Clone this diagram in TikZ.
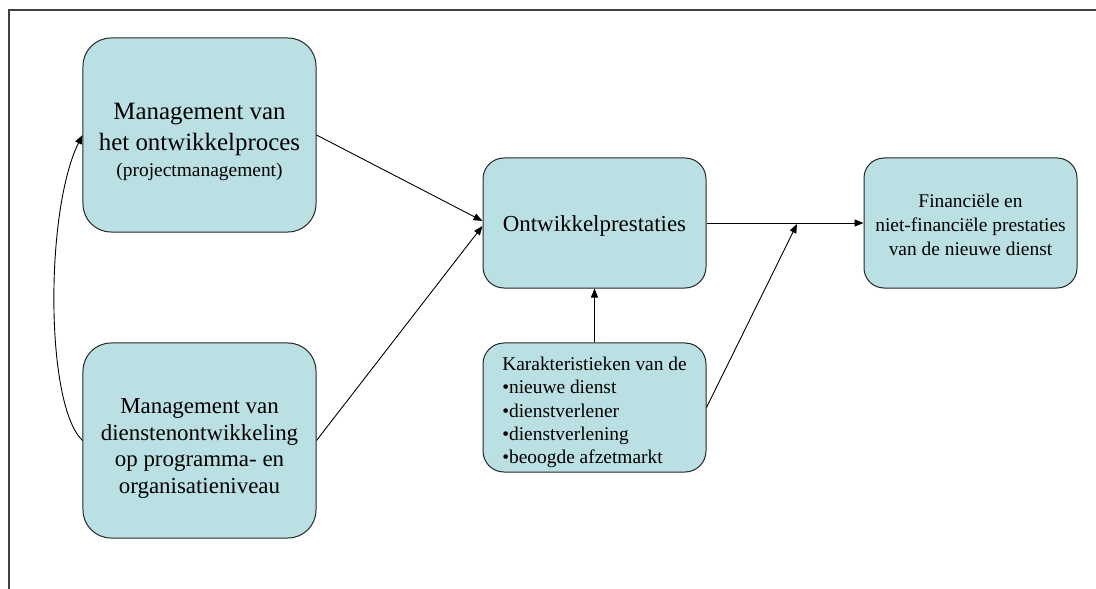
\documentclass[tikz,border=0pt]{standalone}
\usepackage{fontspec}
\setmainfont{Liberation Serif}
\usetikzlibrary{arrows.meta}
\definecolor{boxfill}{RGB}{187,224,227}
\begin{document}
\begin{tikzpicture}[x=1bp,y=-1bp,
  box/.style={draw=black!85, line width=1bp, fill=boxfill, rounded corners=#1,
              inner sep=0pt},
  box/.default=20bp,
  txt/.style={inner sep=0pt, align=center},
  arr/.style={-{Triangle[length=9bp,width=7bp]}, line width=0.9bp},
  frame/.style={draw=black!75, line width=1.2bp}]
\useasboundingbox (0,0) rectangle (1096,589);

% open frame along the top and left edges
\draw[frame] (9,589) -- (9,10) -- (1096,10);

% boxes
\node[box=28bp, minimum width=233bp, minimum height=194bp] (b1) at (199.5,135) {};
\node[box=28bp, minimum width=233bp, minimum height=195bp] (b2) at (199.5,440.5) {};
\node[box=21bp, minimum width=223bp, minimum height=130bp] (b3) at (594.5,223) {};
\node[box=21bp, minimum width=223bp, minimum height=129bp] (b4) at (594.5,407.5) {};
\node[box=20bp, minimum width=213bp, minimum height=130bp] (b5) at (970.5,223) {};

% box texts
\node[txt, font=\fontsize{25}{30}\selectfont] (t1) at ([yshift=-7bp]b1.center)
  {Management van\\[1bp]het ontwikkelproces\\[-3bp]{\fontsize{19.5}{22}\selectfont (projectmanagement)}};
\node[txt, font=\fontsize{23}{27}\selectfont] (t2) at ([yshift=-8bp]b2.center)
  {Management van\\dienstenontwikkeling\\op programma- en\\organisatieniveau};
\node[txt, font=\fontsize{23}{27}\selectfont] (t3) at ([yshift=-3bp]b3.center)
  {Ontwikkelprestaties};
\node[txt, align=left, font=\fontsize{19.5}{23.5}\selectfont] (t4) at ([yshift=-5bp]b4.center)
  {Karakteristieken van de\\\textbullet nieuwe dienst\\\textbullet dienstverlener\\\textbullet dienstverlening\\\textbullet beoogde afzetmarkt};
\node[txt, font=\fontsize{19.5}{24}\selectfont] (t5) at ([yshift=-2bp]b5.center)
  {Financiële en\\niet-financiële prestaties\\van de nieuwe dienst};

% merge point on the output line
\coordinate (m) at (797,224);

% connectors
\draw[arr] (b1.east) -- ([yshift=2bp]b3.west);
\draw[arr] (b2.east) -- ([yshift=-3bp]b3.west);
\draw[arr] (b3.east) -- (b5.west);
\draw[arr] (b4.north) -- (b3.south);
\draw[arr] (b4.east) -- (m);
\draw[arr] (b2.west) .. controls (45,405) and (45,210) .. (b1.west);
\end{tikzpicture}
\end{document}
